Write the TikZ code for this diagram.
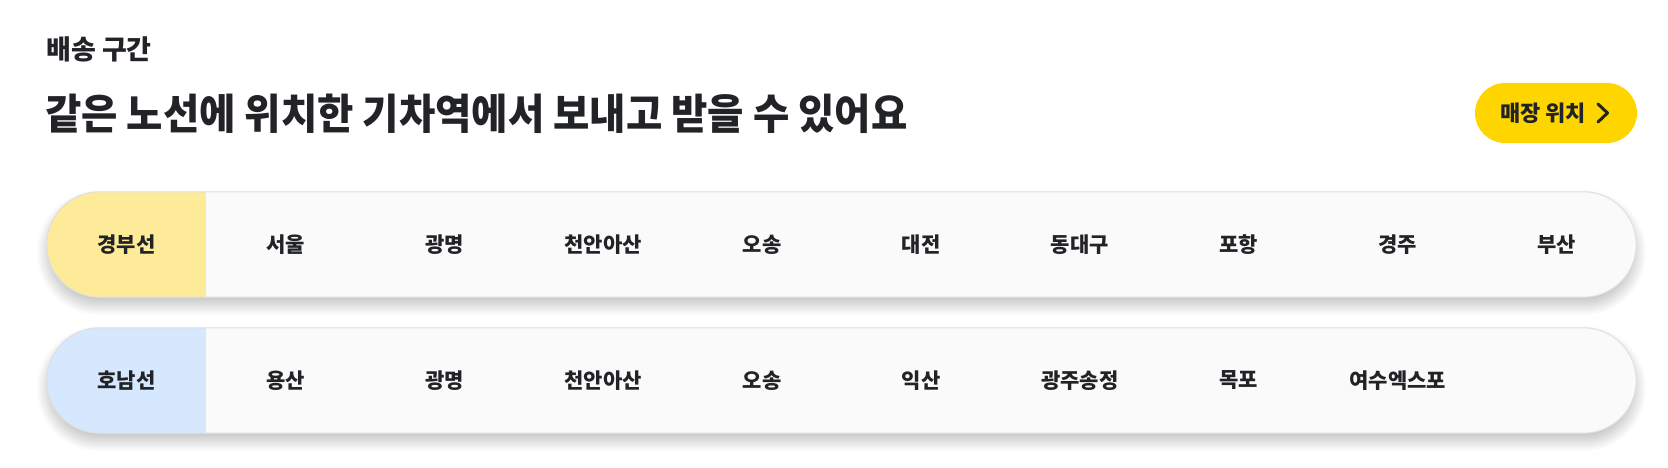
\documentclass[tikz,border=0pt]{standalone}
\usepackage{fontspec}
\setmainfont{Noto Sans CJK KR}
\usetikzlibrary{backgrounds}
\definecolor{ink}{HTML}{222326}
\definecolor{btnyellow}{HTML}{FFD500}
\definecolor{lineyellow}{HTML}{FDEB99}
\definecolor{lineblue}{HTML}{D5E8FD}
\definecolor{rowbg}{HTML}{FAFAFA}
\definecolor{rowborder}{HTML}{DFDFDF}
\tikzset{
  rowbox/.style={fill=rowbg, rounded corners=52.5pt, minimum width=1589pt, minimum height=105pt, inner sep=0pt},
  cell/.style={text=ink, inner sep=0pt, font=\fontsize{21}{24}\selectfont\bfseries},
  heading/.style={text=ink, inner sep=0pt, anchor=west},
}
\newcommand{\rowshadow}[1]{%
  \foreach \k in {-6,...,10}{%
    \fill[black, opacity=0.011, rounded corners={max(52.5pt+\k pt,1pt)}]
      ([xshift=-\k pt, yshift={-\k pt-8pt}]#1.south west) rectangle ([xshift=\k pt, yshift={\k pt-8pt}]#1.north east);
  }%
}
\begin{document}
\begin{tikzpicture}[x=1pt,y=-1pt]
\useasboundingbox (0,0) rectangle (1668,468);

\node[heading, font=\fontsize{27}{30}\selectfont\bfseries] (sec) at (46,49) {배송 구간};
\node[heading, font=\fontsize{42}{48}\selectfont\bfseries] (title) at (45,114) {\scalebox{0.94}[1]{같은 노선에 위치한 기차역에서 보내고 받을 수 있어요}};

\node[fill=btnyellow, rounded corners=30pt, minimum width=162pt, minimum height=60pt, inner sep=0pt] (btn) at (1556,113) {};
\node[heading, font=\fontsize{22}{26}\selectfont\bfseries] (btntext) at (1500,113) {매장 위치};
\draw[ink, line width=3pt, line cap=round, line join=round]
  ([xshift=42pt,yshift=9pt]btn.center) coordinate (chv1) -- ([xshift=51.5pt]btn.center) coordinate (chv2) -- ([xshift=42pt,yshift=-9pt]btn.center) coordinate (chv3);

% row 1
\node[rowbox] (row1) at (841.5,244.5) {};
\begin{scope}
  \clip[rounded corners=52.5pt] (row1.south west) rectangle (row1.north east);
  \fill[lineyellow] (row1.south west) rectangle ([xshift=159pt]row1.north west);
\end{scope}
\draw[rowborder, line width=1pt, rounded corners=52.5pt] (row1.south west) rectangle (row1.north east);

% row 2
\node[rowbox] (row2) at (841.5,380.5) {};
\begin{scope}
  \clip[rounded corners=52.5pt] (row2.south west) rectangle (row2.north east);
  \fill[lineblue] (row2.south west) rectangle ([xshift=159pt]row2.north west);
\end{scope}
\draw[rowborder, line width=1pt, rounded corners=52.5pt] (row2.south west) rectangle (row2.north east);

\begin{scope}[on background layer]
  \fill[white] (0,0) rectangle (1668,468);
  \rowshadow{row1}
  \rowshadow{row2}
\end{scope}

\node[cell] (r1c0) at (126.5,244.5) {경부선};
\foreach \t [count=\i] in {서울,광명,천안아산,오송,대전,동대구,포항,경주,부산}{
  \node[cell] (r1c\i) at ({206+79.45+158.9*(\i-1)},244.5) {\t};
}
\node[cell] (r2c0) at (126.5,380.5) {호남선};
\foreach \t [count=\i] in {용산,광명,천안아산,오송,익산,광주송정,목포,여수엑스포}{
  \node[cell] (r2c\i) at ({206+79.45+158.9*(\i-1)},380.5) {\t};
}
\end{tikzpicture}
\end{document}
